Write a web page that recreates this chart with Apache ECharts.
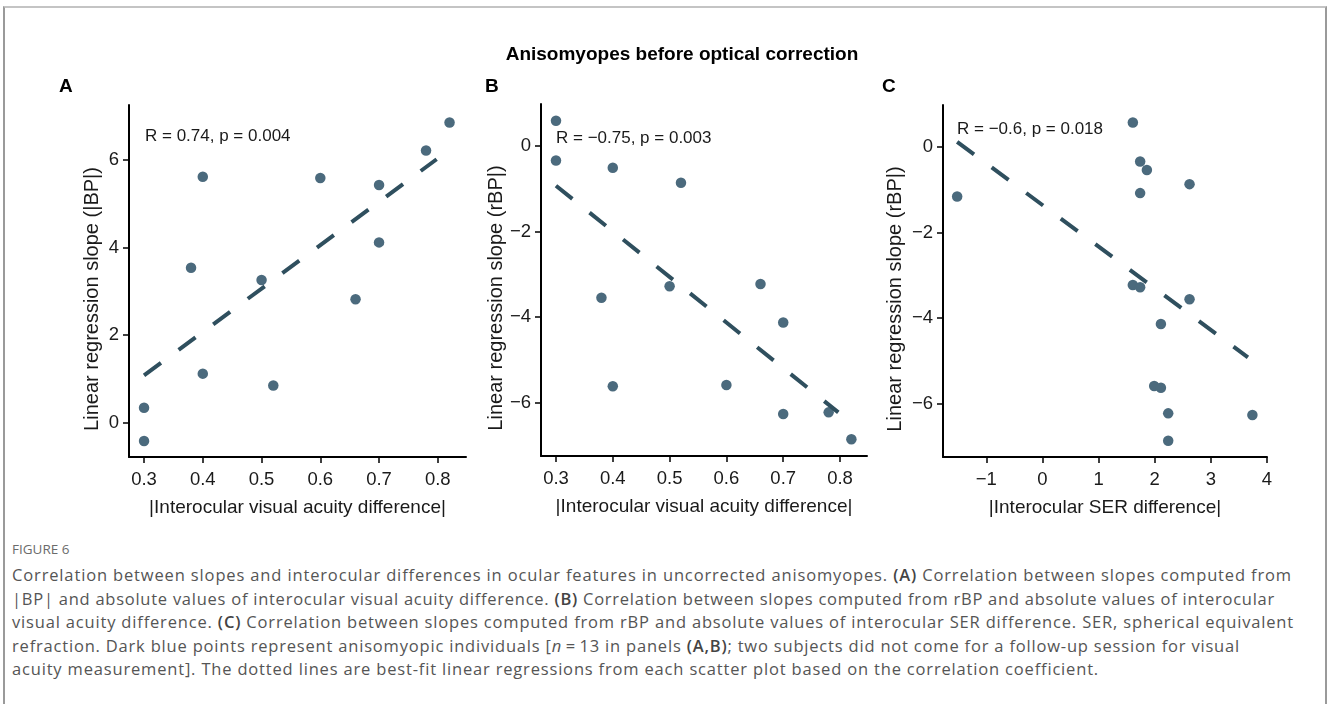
<!DOCTYPE html>
<html>
<head>
<meta charset="utf-8">
<script src="https://cdn.jsdelivr.net/npm/echarts@6/dist/echarts.min.js"></script>
<style>
  html, body { margin: 0; padding: 0; background: #fff; }
  body { width: 1328px; height: 704px; position: relative; overflow: hidden; }
  #frame {
    position: absolute; left: 3px; top: 6px; width: 1320px; height: 760px;
    border-top: 2px solid #c4c4c4; border-left: 2px solid #9a9a9a; border-right: 2px solid #9a9a9a;
  }
  #chart { position: absolute; left: 0; top: 0; width: 1328px; height: 530px; }
  #caption {
    position: absolute; left: 12px; top: 540px; width: 1314px;
    font-family: "Open Sans", Lato, sans-serif; color: #555;
  }
  #caption .fig { font-size: 13.5px; line-height: 18px; color: #6b6b6b; margin-bottom: 5px; }
  #caption .ln { font-size: 16.5px; line-height: 23.5px; white-space: nowrap; }
  #caption .ln span { display: inline-block; }
  #caption b { color: #444; font-weight: 600; }
</style>
</head>
<body>
<div id="frame"></div>
<div id="chart"></div>
<div id="caption">
  <div class="fig">FIGURE 6</div>
  <div class="ln"><span>Correlation between slopes and interocular differences in ocular features in uncorrected anisomyopes. <b>(A)</b> Correlation between slopes computed from</span></div>
  <div class="ln"><span>|BP| and absolute values of interocular visual acuity difference. <b>(B)</b> Correlation between slopes computed from rBP and absolute values of interocular</span></div>
  <div class="ln"><span>visual acuity difference. <b>(C)</b> Correlation between slopes computed from rBP and absolute values of interocular SER difference. SER, spherical equivalent</span></div>
  <div class="ln"><span>refraction. Dark blue points represent anisomyopic individuals [<i>n</i>&thinsp;=&thinsp;13 in panels <b>(A,B)</b>; two subjects did not come for a follow-up session for visual</span></div>
  <div class="ln"><span>acuity measurement]. The dotted lines are best-fit linear regressions from each scatter plot based on the correlation coefficient.</span></div>
</div>
<script>
// panel A : |BP| slope vs visual acuity difference
var xA = [0.3, 0.3, 0.4, 0.38, 0.4, 0.5, 0.52, 0.6, 0.66, 0.7, 0.7, 0.78, 0.82];
var yA = [0.34, -0.42, 5.62, 3.54, 1.12, 3.26, 0.85, 5.59, 2.82, 5.43, 4.12, 6.22, 6.86];
var fitXA = [0.3, 0.798];
var fitYA = [1.08, 6.02];

// panel B : rBP slope vs visual acuity difference
var xB = [0.3, 0.3, 0.4, 0.52, 0.38, 0.5, 0.4, 0.6, 0.66, 0.7, 0.7, 0.78, 0.82];
var yB = [0.59, -0.34, -0.51, -0.86, -3.55, -3.28, -5.62, -5.59, -3.23, -4.13, -6.27, -6.23, -6.86];
var fitXB = [0.3, 0.797];
var fitYB = [-0.93, -6.23];

// panel C : rBP slope vs SER difference
var xC = [1.61, -1.52, 1.74, 1.86, 1.74, 2.62, 1.61, 1.74, 2.62, 2.11, 1.99, 2.11, 2.24, 3.74, 2.24];
var yC = [0.57, -1.16, -0.34, -0.54, -1.08, -0.87, -3.23, -3.28, -3.56, -4.14, -5.59, -5.63, -6.23, -6.27, -6.87];
var fitXC = [-1.52, 3.66];
var fitYC = [0.12, -4.92];

// tick values
var xTicksAB = [0.3, 0.4, 0.5, 0.6, 0.7, 0.8];
var yTicksA = [0, 2, 4, 6];
var yTicksBC = [-6, -4, -2, 0];
var xTicksC = [-1, 0, 1, 2, 3, 4];

var titles = ['A', 'B', 'C'];
var notes = ['R = 0.74, p = 0.004', 'R = \u22120.75, p = 0.003', 'R = \u22120.6, p = 0.018'];

var dotColor = '#4b6a7d';
var lineColor = '#2f4f5e';
var font = '"Liberation Sans", Arial, sans-serif';

function zip(xs, ys) {
	var out = [];
	for (var i = 0; i < xs.length; i++) out.push([xs[i], ys[i]]);
	return out;
}

function fmt(v) {
	return v < 0 ? '\u2212' + Math.abs(v) : String(v);
}

function xAxis(idx, min, max, ticks, name) {
	return {
		type: 'value', gridIndex: idx, min: min, max: max,
		name: name, nameLocation: 'middle', nameGap: 41,
		nameTextStyle: { fontFamily: font, fontSize: 19, color: '#1a1a1a' },
		axisLine: { show: true, onZero: false, lineStyle: { color: '#000', width: 2 } },
		axisTick: { show: true, length: 6, customValues: ticks, lineStyle: { color: '#000', width: 1.5 } },
		axisLabel: { customValues: ticks, formatter: fmt, margin: 13, fontFamily: font, fontSize: 18.5, color: '#1a1a1a' },
		splitLine: { show: false }
	};
}

function yAxis(idx, min, max, ticks, name, gap) {
	return {
		type: 'value', gridIndex: idx, min: min, max: max,
		name: name, nameLocation: 'middle', nameGap: gap,
		// ggplot title sits a little below the panel centre
		nameTextStyle: { fontFamily: font, fontSize: 20, color: '#1a1a1a', padding: [0, 36, 0, 0] },
		axisLine: { show: true, onZero: false, lineStyle: { color: '#000', width: 2 } },
		axisTick: { show: true, length: 6, customValues: ticks, lineStyle: { color: '#000', width: 1.5 } },
		axisLabel: { customValues: ticks, formatter: fmt, margin: 10, fontFamily: font, fontSize: 18.5, color: '#1a1a1a' },
		splitLine: { show: false }
	};
}

function scatter(idx, xs, ys) {
	return {
		type: 'scatter', xAxisIndex: idx, yAxisIndex: idx,
		data: zip(xs, ys), symbolSize: 10.5,
		itemStyle: { color: dotColor, opacity: 1 },
		z: 3
	};
}

function fit(idx, xs, ys) {
	return {
		type: 'line', xAxisIndex: idx, yAxisIndex: idx,
		data: zip(xs, ys), symbol: 'none', silent: true,
		lineStyle: { color: lineColor, width: 4, type: [21, 22], cap: 'butt' },
		z: 4
	};
}

var chart = echarts.init(document.getElementById('chart'), null, { renderer: 'canvas' });

var option = {
	animation: false,
	backgroundColor: 'transparent',
	title: {
		text: 'Anisomyopes before optical correction',
		left: 677, top: 40, textAlign: 'center',
		textStyle: { fontFamily: font, fontSize: 19, fontWeight: 'bold', color: '#000' }
	},
	grid: [
		{ left: 129, top: 105, width: 337, height: 352 },
		{ left: 541, top: 104, width: 326, height: 352 },
		{ left: 943, top: 105, width: 324, height: 352 }
	],
	xAxis: [
		xAxis(0, 0.2744, 0.848, xTicksAB, '|Interocular visual acuity difference|'),
		xAxis(1, 0.2736, 0.8475, xTicksAB, '|Interocular visual acuity difference|'),
		xAxis(2, -1.772, 4.0, xTicksC, '|Interocular SER difference|')
	],
	yAxis: [
		yAxis(0, -0.785, 7.26, yTicksA, 'Linear regression slope (|BP|)', 27),
		yAxis(1, -7.25, 0.98, yTicksBC, 'Linear regression slope (rBP|)', 34),
		yAxis(2, -7.25, 0.98, yTicksBC, 'Linear regression slope (rBP|)', 38)
	],
	series: [
		fit(0, fitXA, fitYA), scatter(0, xA, yA),
		fit(1, fitXB, fitYB), scatter(1, xB, yB),
		fit(2, fitXC, fitYC), scatter(2, xC, yC)
	],
	graphic: [
		{ type: 'text', left: 59, top: 77, style: { text: titles[0], font: 'bold 19px ' + font, fill: '#000' } },
		{ type: 'text', left: 485, top: 77, style: { text: titles[1], font: 'bold 19px ' + font, fill: '#000' } },
		{ type: 'text', left: 882, top: 77, style: { text: titles[2], font: 'bold 19px ' + font, fill: '#000' } },
		{ type: 'text', left: 145, top: 128, style: { text: notes[0], font: '17px ' + font, fill: '#1a1a1a' } },
		{ type: 'text', left: 556, top: 130, style: { text: notes[1], font: '17px ' + font, fill: '#1a1a1a' } },
		{ type: 'text', left: 957, top: 121, style: { text: notes[2], font: '17px ' + font, fill: '#1a1a1a' } }
	]
};

chart.setOption(option);

// caption line widths as measured on the figure (px from the caption's left edge)
var lineWidths = [1280, 1263, 1282, 1228, 1087];
var spans = document.querySelectorAll('#caption .ln span');
for (var i = 0; i < spans.length; i++) {
	var w = spans[i].getBoundingClientRect().width;
	var n = spans[i].textContent.length;
	spans[i].style.letterSpacing = ((lineWidths[i] - w) / n) + 'px';
}
</script>
</body>
</html>
